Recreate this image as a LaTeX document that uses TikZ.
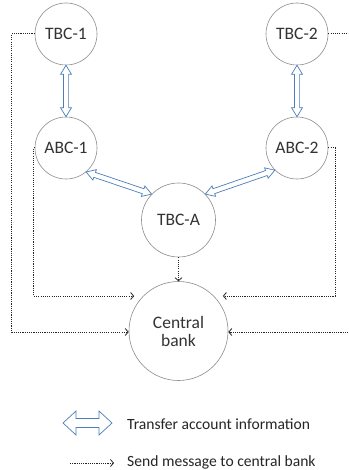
\documentclass[tikz,border=0pt]{standalone}
\usepackage{fontspec}
\setmainfont{Carlito}
\usetikzlibrary{calc,arrows.meta}

\definecolor{ringgray}{HTML}{8C8C8C}
\definecolor{textgray}{HTML}{333333}
\definecolor{xferblue}{HTML}{4A7EBB}

\tikzset{
  bank/.style={circle, draw=ringgray, line width=0.6pt, fill=white,
    inner sep=0pt, text=textgray, font=\fontsize{17.5}{20}\selectfont, align=center},
  xfer/.style={draw=xferblue, fill=white, line width=0.7pt, line join=miter},
  msg/.style={draw=black!85, line width=1.0pt, dash pattern=on 1.1pt off 1.1pt,
    -{Straight Barb[length=3pt,width=7pt,line width=0.8pt]}},
  legendtext/.style={anchor=west, text=black!85, font=\fontsize{15.6}{18}\selectfont, inner sep=0pt}
}

% hollow two-headed arrow between two points:
% #1 from, #2 to, #3 head length, #4 head half-width, #5 shaft half-width
\newcommand\xferarrow[5]{%
  \coordinate (xa) at ($(#1)!#3!(#2)$);
  \coordinate (xb) at ($(#2)!#3!(#1)$);
  \draw[xfer] (#1)
    -- ($(xa)!#4!90:(#2)$) -- ($(xa)!#5!90:(#2)$)
    -- ($(xb)!#5!-90:(#1)$) -- ($(xb)!#4!-90:(#1)$)
    -- (#2)
    -- ($(xb)!#4!90:(#1)$) -- ($(xb)!#5!90:(#1)$)
    -- ($(xa)!#5!-90:(#2)$) -- ($(xa)!#4!-90:(#2)$)
    -- cycle;
}

\begin{document}
\begin{tikzpicture}[x=1pt,y=-1pt]
  \clip (0,0) rectangle (348,470);
  \fill[white] (0,0) rectangle (348,470);

  % banks
  \node[bank, minimum size=62pt] (t1) at (66,34) {TBC-1};
  \node[bank, minimum size=62pt] (t2) at (297,34) {TBC-2};
  \node[bank, minimum size=62pt] (a1) at (66,148) {ABC-1};
  \node[bank, minimum size=62pt] (a2) at (297,148) {ABC-2};
  \node[bank, minimum size=74pt] (ta) at (178.5,220) {TBC-A};
  \node[bank, minimum size=99pt] (cb) at (178.5,331) {Central\\[-2pt]bank};

  % routing corners of the message lines
  \coordinate (lt) at (11.5,34);
  \coordinate (lb) at (11.5,332);
  \coordinate (rt) at (352,34);
  \coordinate (rb) at (352,332);
  \coordinate (la) at (33.5,296);
  \coordinate (ra) at (335,296);

  % messages to the central bank
  \draw[msg] (t1.west) -- (lt) -- (lb) -- (cb.west |- lb);
  \draw[msg] (t2.east) -- (rt) -- (rb) -- (cb.east |- rb);
  \draw[msg] (a1.180) -| (la) -- (la -| cb.-153);
  \draw[msg] (a2.east) -| (ra) -- (ra -| cb.-27);
  \draw[msg] (ta.south) -- (cb.north);

  % account transfers
  \xferarrow{t1.south}{a1.north}{9pt}{5.5pt}{2.6pt}
  \xferarrow{t2.south}{a2.north}{9pt}{5.5pt}{2.6pt}
  \xferarrow{a1.-50}{ta.136}{9pt}{5.5pt}{2.6pt}
  \xferarrow{a2.-135}{ta.44}{9pt}{5.5pt}{2.6pt}

  % legend
  \coordinate (k1) at (63,423);
  \coordinate (k2) at (112,423);
  \xferarrow{k1}{k2}{13pt}{12pt}{4.5pt}
  \node[legendtext] (kt1) at (127,424) {Transfer account information};
  \coordinate (m1) at (70,463);
  \coordinate (m2) at (114,463);
  \draw[msg] (m1) -- (m2);
  \node[legendtext] (kt2) at (127,462) {Send message to central bank};
\end{tikzpicture}
\end{document}
